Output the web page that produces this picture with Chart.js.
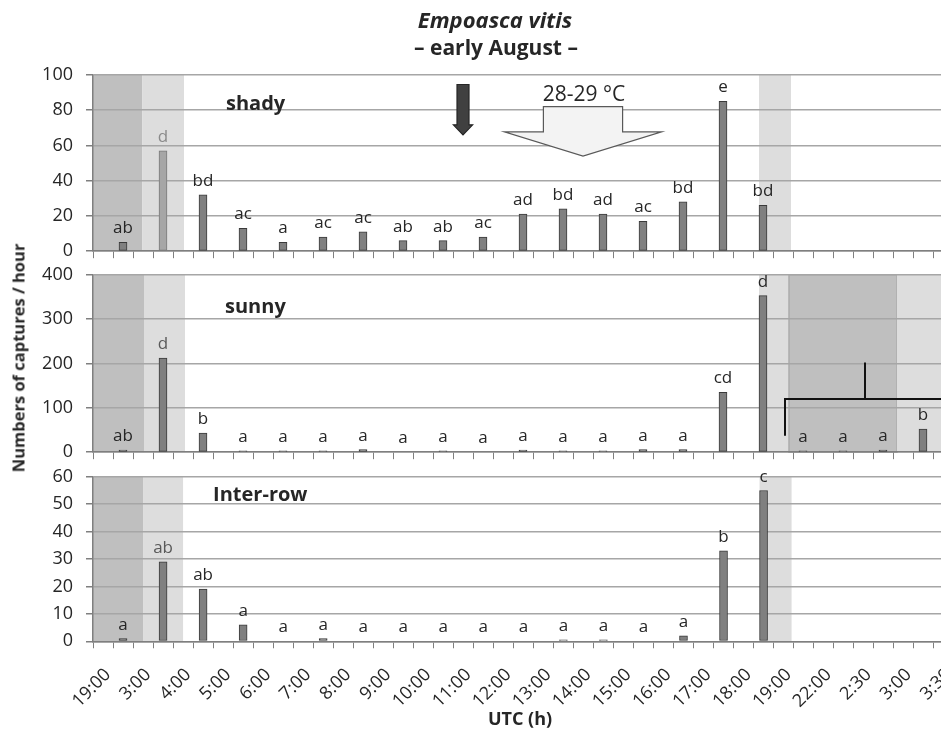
<!DOCTYPE html>
<html>
<head>
<meta charset="utf-8">
<script src="https://cdn.jsdelivr.net/npm/chart.js@4.4.1/dist/chart.umd.min.js"></script>
<style>
html, body { margin: 0; padding: 0; background: #fff; width: 941px; height: 735px; overflow: hidden; }
.panel { position: absolute; left: 0; }
#c1 { top: 0; }
#c2 { top: 251px; }
#c3 { top: 453px; }
#ytitle {
    position: absolute; left: 18px; top: 358px;
    transform: translate(-50%, -50%) rotate(-90deg);
    font: bold 16.5px "Open Sans", sans-serif; color: #262626; white-space: nowrap;
}
</style>
</head>
<body>
<canvas class="panel" id="c1" width="980" height="275"></canvas>
<canvas class="panel" id="c2" width="980" height="225"></canvas>
<canvas class="panel" id="c3" width="995" height="282"></canvas>
<div id="ytitle">Numbers of captures / hour</div>
<script>
// Dados
const timeLabels = ['19:00', '3:00', '4:00', '5:00', '6:00', '7:00', '8:00', '9:00', '10:00', '11:00', '12:00',
    '13:00', '14:00', '15:00', '16:00', '17:00', '18:00', '19:00', '22:00', '2:30', '3:00', '3:30'];

const shadyValues = [5, 57, 32, 13, 5, 8, 11, 6, 6, 8, 21, 24, 21, 17, 28, 85, 26];
const shadyLetters = ['ab', 'd', 'bd', 'ac', 'a', 'ac', 'ac', 'ab', 'ab', 'ac', 'ad', 'bd', 'ad', 'ac', 'bd', 'e', 'bd'];
const shadyTicks = [0, 20, 40, 60, 80, 100];

const sunnyValues = [5, 212, 43, 3, 3, 3, 6, 0, 3, 0, 5, 3, 3, 6, 6, 135, 353, 3, 3, 5, 52];
const sunnyLetters = ['ab', 'd', 'b', 'a', 'a', 'a', 'a', 'a', 'a', 'a', 'a', 'a', 'a', 'a', 'a', 'cd', 'd', 'a', 'a', 'a', 'b'];
const sunnyTicks = [0, 100, 200, 300, 400];

const interValues = [1, 29, 19, 6, 0, 1, 0, 0, 0, 0, 0, 0.5, 0.5, 0, 2, 33, 55];
const interLetters = ['a', 'ab', 'ab', 'a', 'a', 'a', 'a', 'a', 'a', 'a', 'a', 'a', 'a', 'a', 'a', 'b', 'c'];
const interTicks = [0, 10, 20, 30, 40, 50, 60];

const FONT = '"Open Sans", Lato, sans-serif';
const TEXT = '#262626';
const DARK = '#bfbfbf';
const LIGHT = '#dddddd';

// each hour label sits on an even slot, each bar on the odd slot after it
const slotLabels = timeLabels.flatMap(t => [t, '']);
function slotData(values) {
    return slotLabels.map((_, i) => {
        const k = (i - 1) / 2;
        return i % 2 === 1 && k < values.length ? values[k] : null;
    });
}

// bandas, textos e setas
const decorPlugin = {
    id: 'decor',
    beforeDraw(chart, args, o) {
        const { ctx, chartArea: a, scales: { x } } = chart;
        const sx = s => x.getPixelForValue(s - 0.5);
        ctx.save();
        (o.bands || []).forEach(b => {
            const l = Math.max(sx(b.from), a.left), r = Math.min(sx(b.to), a.right);
            ctx.fillStyle = b.color;
            ctx.fillRect(l, a.top, r - l, a.bottom - a.top);
            if (b.edge) {
                ctx.strokeStyle = b.edge;
                ctx.lineWidth = 1.5;
                ctx.strokeRect(l, a.top, r - l, a.bottom - a.top);
            }
        });
        ctx.restore();
    },
    afterDatasetsDraw(chart, args, o) {
        const { ctx, scales: { x, y } } = chart;
        const sx = s => x.getPixelForValue(s - 0.5);
        ctx.save();

        (o.arrows || []).forEach(ar => {
            const c = sx(ar.c), bh = sx(ar.c + ar.body) - c, hh = sx(ar.c + ar.head) - c;
            const t = y.getPixelForValue(ar.top), n = y.getPixelForValue(ar.neck), p = y.getPixelForValue(ar.tip);
            ctx.beginPath();
            ctx.moveTo(c - bh, t); ctx.lineTo(c + bh, t); ctx.lineTo(c + bh, n); ctx.lineTo(c + hh, n);
            ctx.lineTo(c, p); ctx.lineTo(c - hh, n); ctx.lineTo(c - bh, n);
            ctx.closePath();
            ctx.fillStyle = ar.fill;
            ctx.fill();
            ctx.strokeStyle = ar.stroke;
            ctx.lineWidth = 1.2;
            ctx.stroke();
        });

        (o.lines || []).forEach(pts => {
            ctx.beginPath();
            pts.forEach(([s, v], i) => {
                const px = sx(s), py = y.getPixelForValue(v);
                i ? ctx.lineTo(px, py) : ctx.moveTo(px, py);
            });
            ctx.strokeStyle = '#111';
            ctx.lineWidth = 2;
            ctx.stroke();
        });

        (o.texts || []).forEach(t => {
            ctx.font = t.font;
            ctx.fillStyle = TEXT;
            ctx.textAlign = t.align;
            ctx.textBaseline = 'alphabetic';
            ctx.fillText(t.text, sx(t.s), y.getPixelForValue(t.v));
        });

        // letras das barras
        const data = chart.data.datasets[0].data;
        ctx.font = '17px ' + FONT;
        ctx.textAlign = 'center';
        ctx.textBaseline = 'alphabetic';
        chart.getDatasetMeta(0).data.forEach((bar, i) => {
            if (data[i] === null) return;
            const k = (i - 1) / 2;
            ctx.fillStyle = k === 1 ? o.altColor : TEXT;
            ctx.fillText(o.letters[k], bar.x, bar.y - 9);
        });
        ctx.restore();
    },
    afterDraw(chart, args, o) {
        const ctx = chart.ctx;
        ctx.save();
        ctx.fillStyle = TEXT;
        ctx.textAlign = 'center';
        ctx.textBaseline = 'alphabetic';
        (o.captions || []).forEach(c => {
            ctx.font = c.font;
            ctx.fillText(c.text, c.x, c.y);
        });
        ctx.restore();
    }
};

function panelChart(id, values, letters, ticks, decor, cfg) {
    const fills = values.map((_, k) => (k === 1 && cfg.altBar ? '#a6a6a6' : '#808080'));
    const borders = values.map((_, k) => (k === 1 && cfg.altBar ? '#7a7a7a' : '#3a3a3a'));
    return new Chart(document.getElementById(id), {
        type: 'bar',
        data: {
            labels: slotLabels,
            datasets: [{
                data: slotData(values),
                backgroundColor: slotLabels.map((_, i) => fills[(i - 1) / 2] || '#808080'),
                borderColor: slotLabels.map((_, i) => borders[(i - 1) / 2] || '#3a3a3a'),
                borderWidth: 1,
                borderSkipped: false,
                barThickness: 8
            }]
        },
        options: {
            responsive: false,
            animation: false,
            events: [],
            layout: { padding: { top: cfg.top, bottom: cfg.bottom, left: 0, right: cfg.right } },
            plugins: {
                legend: { display: false },
                tooltip: { enabled: false },
                decor: Object.assign({ letters: letters }, decor)
            },
            scales: {
                x: {
                    grid: { drawOnChartArea: false, offset: true, tickLength: 7, color: '#7f7f7f', lineWidth: 1 },
                    border: { color: '#7f7f7f', width: 1.5 },
                    ticks: {
                        display: cfg.labels, autoSkip: false, maxRotation: 45, minRotation: 45,
                        padding: 16, labelOffset: 5, font: { family: FONT, size: 18 }, color: TEXT
                    }
                },
                y: {
                    min: ticks[0],
                    max: ticks[ticks.length - 1],
                    ticks: { stepSize: ticks[1] - ticks[0], padding: 13, font: { family: FONT, size: 18 }, color: TEXT },
                    grid: { color: '#a6a6a6', lineWidth: 1.5, tickLength: 7, tickColor: '#7f7f7f' },
                    border: { color: '#7f7f7f', width: 1.5 },
                    afterFit: s => { s.width = 93; }
                }
            }
        },
        plugins: [decorPlugin]
    });
}

// Painel "shady"
panelChart('c1', shadyValues, shadyLetters, shadyTicks, {
    altColor: '#8a8a8a',
    bands: [
        { from: 0, to: 2.47, color: DARK },
        { from: 2.47, to: 4.55, color: LIGHT },
        { from: 33.3, to: 34.9, color: LIGHT }
    ],
    arrows: [
        { c: 18.5, body: 0.3, head: 0.48, top: 94.6, neck: 71.7, tip: 66, fill: '#404040', stroke: '#262626' },
        { c: 24.5, body: 1.98, head: 3.93, top: 82, neck: 67.7, tip: 54, fill: '#f3f3f3', stroke: '#595959' }
    ],
    texts: [
        { text: 'shady', s: 6.65, v: 80, align: 'left', font: 'bold 20px ' + FONT },
        { text: '28-29 °C', s: 24.55, v: 85.5, align: 'center', font: '21px ' + FONT }
    ],
    captions: [
        { text: 'Empoasca vitis', x: 495, y: 28, font: 'italic bold 22px ' + FONT },
        { text: '– early August –', x: 496, y: 55, font: 'bold 21px ' + FONT }
    ]
}, { top: 75, bottom: 0, right: 7, labels: false, altBar: true });

// Painel "sunny"
panelChart('c2', sunnyValues, sunnyLetters, sunnyTicks, {
    altColor: '#595959',
    bands: [
        { from: 0, to: 2.55, color: DARK },
        { from: 2.55, to: 4.6, color: LIGHT },
        { from: 33.3, to: 34.8, color: LIGHT },
        { from: 34.8, to: 40.2, color: DARK, edge: '#acacac' },
        { from: 40.2, to: 45, color: LIGHT }
    ],
    lines: [
        [[34.6, 37], [34.6, 120], [45, 120]],
        [[38.6, 120], [38.6, 202]]
    ],
    texts: [
        { text: 'sunny', s: 6.6, v: 314, align: 'left', font: 'bold 20px ' + FONT }
    ]
}, { top: 0, bottom: 0, right: 7, labels: false, altBar: false });

// Painel "Inter-row"
panelChart('c3', interValues, interLetters, interTicks, {
    altColor: '#595959',
    bands: [
        { from: 0, to: 2.5, color: DARK },
        { from: 2.5, to: 4.5, color: LIGHT },
        { from: 33.3, to: 34.9, color: LIGHT }
    ],
    texts: [
        { text: 'Inter-row', s: 6.0, v: 51, align: 'left', font: 'bold 20px ' + FONT }
    ],
    captions: [
        { text: 'UTC (h)', x: 520, y: 272, font: 'bold 18px ' + FONT }
    ]
}, { top: 0, bottom: 7, right: 0, labels: true, altBar: false });
</script>
</body>
</html>
